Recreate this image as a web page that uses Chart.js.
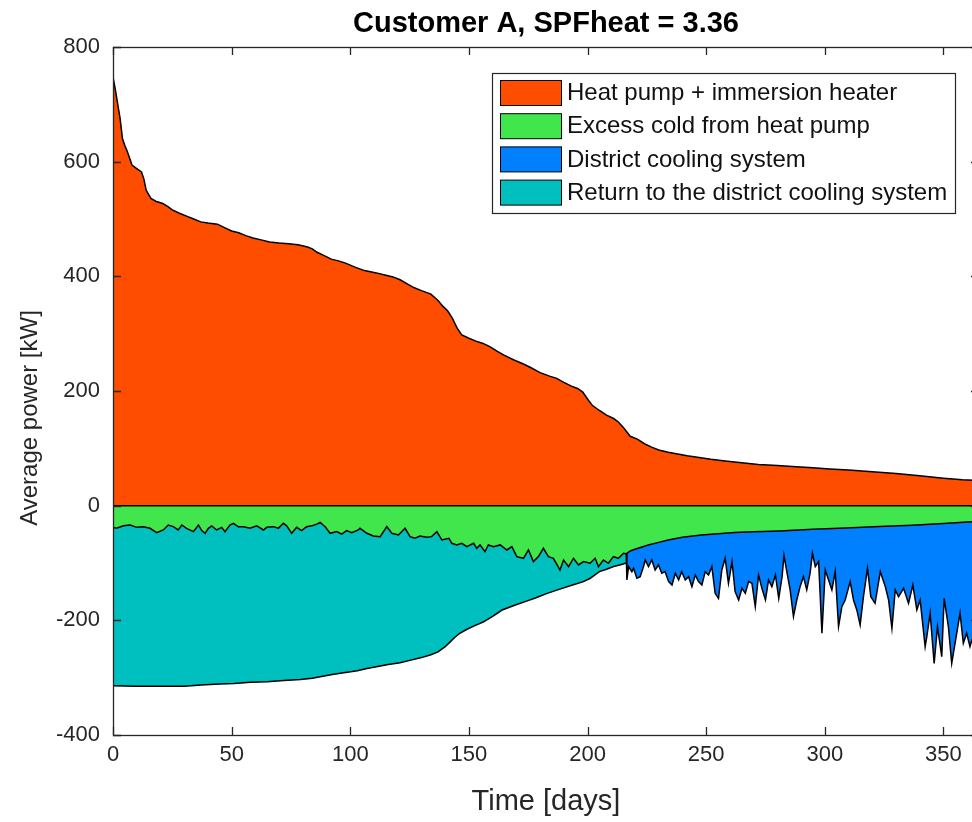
<!DOCTYPE html>
<html>
<head>
<meta charset="utf-8">
<script src="https://cdn.jsdelivr.net/npm/chart.js@4.4.1/dist/chart.umd.min.js"></script>
<style>
html,body{margin:0;padding:0;overflow:hidden;background:#fff;width:972px;height:822px}
#wrap{width:990px;height:822px}
</style>
</head>
<body>
<div id="wrap"><canvas id="c" width="990" height="822"></canvas></div>
<script>
// ---------- data ----------
const chartTitle = 'Customer A, SPFheat = 3.36';
const xAxisTitle = 'Time [days]';
const yAxisTitle = 'Average power [kW]';
const xTickValues = [0, 50, 100, 150, 200, 250, 300, 350];
const yTickValues = [-400, -200, 0, 200, 400, 600, 800];
const seriesNames = ['Heat pump + immersion heater', 'Excess cold from heat pump', 'District cooling system', 'Return to the district cooling system'];

// Heat pump + immersion heater (upper boundary, kW)
const heatDays = [0,1,2,3,4,5,6,8,10,12,13,14,16,18,21,23,25,28,31,34,37,40,44,47,50,53,56,59,62,66,70,74,78,82,84,86,89,92,95,98,102,106,111,115,118,121,124,127,130,134,137,139,141,143,145,147,150,153,156,159,162,165,169,173,176,180,184,187,190,193,196,198,200,202,205,208,211,213,215,218,221,224,227,230,234,238,242,247,252,258,265,272,280,288,295,302,310,320,330,340,350,358,365];
const heatVals = [748,725,700,675,640,628,618,594,588,582,570,550,536,531,527,522,516,510,505,500,495,493,491,485,479,476,471,467,464,460,458,457,455,451,448,442,436,430,427,423,416,410,406,402,399,394,387,380,375,369,358,348,340,327,310,298,292,287,283,277,269,262,254,247,241,232,226,222,215,209,204,198,186,175,166,158,152,146,137,121,116,108,102,97,93,90,87,84,81,78,75,72,70,68,66,64,62,59,56,52,48,45,44];

// Excess cold from heat pump (lower boundary, kW)
const coldDays = [0,1.5,4.4,7.2,10,12.8,15.6,18.4,21.2,23.3,25.4,27.5,29,31,33.9,36,37.4,38.8,40.2,41.6,43.7,45.8,47.2,49.3,50.7,52.8,55,57.8,60.6,63.4,64.8,67.6,69.7,71.8,73.2,75.3,77.4,79.5,81.6,83.8,85.9,87.3,89.4,91.5,94.3,96.4,98.5,100.6,103.4,104.1,107,109.7,112.6,115.4,117.5,120.3,123.1,125.2,127.3,129.4,132.2,134.3,136.5,138.6,141.6,142.8,144.9,147,149.1,152,153.3,154.7,156.8,158.2,160.4,163.2,166,168.1,170.2,173,175.1,177.2,179.3,181.4,183.5,185.6,188.4,189.9,192,194.1,196.2,198.3,201.1,203.2,204.6,206.7,208.8,210.9,213,215.2,216.3,218,220,223,226,230,234,240,248,255,262,270,281,295,309,323,337,350,362,365];
const coldVals = [-38,-39.5,-35.2,-33.7,-37.8,-36.6,-39.5,-47,-42.4,-33.7,-36.6,-42.4,-33.7,-39.5,-45.3,-33.7,-43.5,-48.2,-39.5,-35.2,-42.4,-37.8,-45.3,-33.7,-30.8,-36.6,-36.6,-39.5,-35.2,-42.4,-37.8,-36.6,-39.5,-30.8,-35.2,-48.2,-37.8,-43.5,-36.6,-35.2,-32.2,-29.3,-36.6,-48.2,-45.3,-49.6,-43.5,-47,-42.4,-39.5,-48.2,-52.9,-54,-36.6,-48.2,-51.1,-39.5,-54,-56.9,-52.9,-55.2,-54,-45.3,-59.8,-56.9,-65.6,-68.5,-65.6,-71.5,-65.6,-74.4,-68.5,-80.2,-68.5,-71.5,-68.5,-77.3,-71.5,-88.9,-91.8,-77.3,-97.6,-88.9,-74.4,-88.9,-91.8,-112.2,-94.7,-106.3,-91.8,-103.4,-97.6,-100.5,-91.8,-106.3,-94.7,-100.5,-88.9,-91.8,-83.1,-84,-79,-76,-72,-68,-64,-60,-55,-51,-49,-47,-45.5,-44,-41,-39,-36.5,-34,-31,-28,-27];

// District cooling system (lower boundary, kW)
const districtDays = [216.3,216.6,217.3,218.7,219.4,220.8,222.2,223.6,224.3,225.7,227.1,228.5,229.9,231.3,232.7,234.2,235.6,237,238.4,239.7,241.2,242.6,244,245.4,246.8,248.2,249.6,251,252.4,253.8,255.2,256.6,258,259.4,260.9,262.2,263.7,265.1,266.5,267.9,269.3,270.7,272.1,273.5,275,276.3,277.7,279.2,280.6,282,282.8,284,285.4,286.8,288.2,289.6,291,292.4,293.8,294.8,296,297.4,298.8,300.2,301.6,303,304.4,305.8,307.2,308.6,310.7,312.1,313.5,314.9,316.3,318,319.4,321.2,323.4,325.5,326.9,328.3,329.7,331.1,333.2,335.3,337.1,338.8,340.2,342.3,343,344.4,346.1,347.5,349.3,350.3,352.1,353.5,354.9,357,358.4,359.8,361.2,362,363.5,365];
const districtVals = [-84,-129.6,-106.3,-115.1,-109.3,-126.7,-123.8,-106.3,-94.7,-106.3,-94.7,-112.2,-103.4,-118,-115.1,-132.5,-138.3,-118,-129.6,-115.1,-129.6,-123.8,-141.2,-120.9,-132.5,-138.3,-115.1,-120.9,-106.3,-152.9,-161.6,-112.2,-91.8,-135.4,-97.6,-150,-164.5,-144.1,-152.9,-132.5,-135.4,-176.1,-120.9,-144.1,-164.5,-129.6,-141.2,-120.9,-161.6,-123.8,-87,-115.1,-147,-193.5,-164.5,-141.2,-123.8,-147,-118,-83.1,-106.3,-97.6,-222.6,-112.2,-129.6,-147,-115.1,-211,-176.1,-164.5,-132.5,-164.5,-181.9,-208,-158.7,-109.3,-158.7,-170.3,-115.1,-141.2,-164.5,-213.9,-147,-158.7,-144.1,-170.3,-138.3,-181.9,-164.5,-245.9,-228.4,-187.7,-275,-211,-263.3,-161.6,-211,-275,-240,-187.7,-240,-222.6,-245.9,-234.3,-225,-240];

// Return to the district cooling system (lower boundary, kW)
const returnDays = [0,10,20,30,37,45,51,58,65,72,79,84,89,93,98,103,107,111,116,121,126,130,134,137,140,142,144,146,149,152,156,160,164,169,174,178,183,188,194,198,201,203,205,208,211,214,216.3];
const returnVals = [-314,-315,-315,-315,-313,-311,-310,-308,-307,-305,-303,-301,-297,-294,-291,-288,-284,-281,-277,-274,-269,-265,-260,-255,-246,-238,-230,-223,-216,-210,-203,-193,-182,-174,-167,-161,-153,-146,-138,-133,-127,-121,-115,-111,-106,-103,-100];

const seriesColors = ['#FF4D00', '#40E64C', '#0080FF', '#00BFBF'];

// ---------- chart ----------
const FONT = '"Liberation Sans", Arial, Helvetica, sans-serif';
Chart.defaults.font.family = FONT;
const pts = (xs, ys) => xs.map((x, i) => ({x: x, y: ys[i]}));

const frame = {
  id: 'matlabFrame',
  afterDatasetsDraw(chart) {
    const {ctx, chartArea: a, scales: {x, y}} = chart;
    ctx.save();
    // baseline at zero
    const y0 = y.getPixelForValue(0);
    ctx.strokeStyle = '#000';
    ctx.lineWidth = 1.5;
    ctx.beginPath(); ctx.moveTo(a.left, y0); ctx.lineTo(a.right, y0); ctx.stroke();
    // box
    ctx.strokeStyle = '#262626';
    ctx.lineWidth = 1.3;
    ctx.strokeRect(a.left + 0.5, a.top + 0.5, a.right - a.left, a.bottom - a.top);
    // inward ticks
    const tl = 8;
    ctx.beginPath();
    xTickValues.forEach(v => {
      const p = Math.round(x.getPixelForValue(v)) + 0.5;
      ctx.moveTo(p, a.bottom); ctx.lineTo(p, a.bottom - tl);
      ctx.moveTo(p, a.top); ctx.lineTo(p, a.top + tl);
    });
    yTickValues.forEach(v => {
      const p = Math.round(y.getPixelForValue(v)) + 0.5;
      ctx.moveTo(a.left, p); ctx.lineTo(a.left + tl, p);
      ctx.moveTo(a.right, p); ctx.lineTo(a.right - tl, p);
    });
    ctx.stroke();
    // y-axis label
    ctx.save();
    ctx.translate(30, 418);
    ctx.rotate(-Math.PI / 2);
    ctx.font = '24px ' + FONT;
    ctx.fillStyle = '#262626';
    ctx.textAlign = 'center';
    ctx.textBaseline = 'middle';
    ctx.fillText(yAxisTitle, 0, 0);
    ctx.restore();
    // legend
    const lx = 492.5, ly = 73.5, lw = 463, lh = 140;
    ctx.fillStyle = '#fff';
    ctx.fillRect(lx, ly, lw, lh);
    ctx.strokeStyle = '#262626';
    ctx.lineWidth = 1.2;
    ctx.strokeRect(lx, ly, lw, lh);
    ctx.font = '24px ' + FONT;
    ctx.textBaseline = 'middle';
    ctx.textAlign = 'left';
    seriesNames.forEach((name, i) => {
      const top = 80.5 + i * 33.2;
      ctx.fillStyle = seriesColors[i];
      ctx.fillRect(500.5, top, 61, 25);
      ctx.strokeStyle = '#000';
      ctx.lineWidth = 1;
      ctx.strokeRect(500.5, top, 61, 25);
      ctx.fillStyle = '#111';
      ctx.fillText(name, 567, top + 13);
    });
    ctx.restore();
  }
};

const common = {borderColor: '#000', borderWidth: 1.5, pointRadius: 0, pointHoverRadius: 0, tension: 0};

new Chart(document.getElementById('c'), {
  type: 'line',
  data: {
    datasets: [
      Object.assign({label: seriesNames[0], data: pts(heatDays, heatVals), backgroundColor: seriesColors[0], fill: 'origin'}, common),
      Object.assign({label: seriesNames[1], data: pts(coldDays, coldVals), backgroundColor: seriesColors[1], fill: 'origin'}, common),
      Object.assign({label: seriesNames[2], data: pts(districtDays, districtVals), backgroundColor: seriesColors[2], fill: 1}, common),
      Object.assign({label: seriesNames[3], data: pts(returnDays, returnVals), backgroundColor: seriesColors[3], fill: 1}, common)
    ]
  },
  options: {
    responsive: false,
    animation: false,
    events: [],
    layout: {padding: {left: 0, right: 11, top: 0, bottom: 0}},
    plugins: {
      legend: {display: false},
      tooltip: {enabled: false},
      title: {
        display: true, text: chartTitle, fullSize: false, color: '#000',
        font: {size: 29, weight: 'bold', family: FONT, lineHeight: 1.2},
        padding: {top: 6.6, bottom: 5.6}
      }
    },
    scales: {
      x: {
        type: 'linear', min: 0, max: 365,
        afterBuildTicks: s => { s.ticks = xTickValues.map(v => ({value: v})); },
        afterFit: s => { s.height = 87; },
        grid: {display: false, drawTicks: false},
        border: {display: false},
        ticks: {color: '#262626', font: {size: 22}, padding: 7, maxRotation: 0, autoSkip: false},
        title: {display: true, text: xAxisTitle, color: '#262626', font: {size: 29, lineHeight: 1.2}, padding: {top: 0, bottom: 2.6}}
      },
      y: {
        type: 'linear', min: -400, max: 800,
        afterBuildTicks: s => { s.ticks = yTickValues.map(v => ({value: v})); },
        afterFit: s => { s.width = 113; },
        grid: {display: false, drawTicks: false},
        border: {display: false},
        ticks: {color: '#262626', font: {size: 22}, padding: 13, autoSkip: false},
        title: {display: false}
      }
    }
  },
  plugins: [frame]
});
</script>
</body>
</html>
